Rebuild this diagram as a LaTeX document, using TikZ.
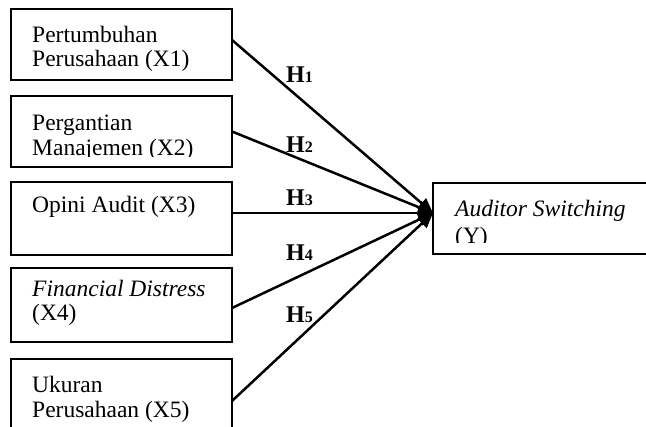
\documentclass[tikz,border=0pt]{standalone}
\usepackage{fontspec}
\setmainfont{Liberation Serif}
\usetikzlibrary{arrows.meta,calc}
\begin{document}
\begin{tikzpicture}[x=1pt,y=-1pt,
  box/.style={draw, line width=2pt, rectangle, inner sep=0pt, outer sep=0pt, anchor=north west},
  txt/.style={anchor=base west, inner sep=0pt, font=\fontsize{23.5}{24}\selectfont},
  hlab/.style={anchor=base west, inner sep=0pt, font=\bfseries\fontsize{24}{24}\selectfont},
  conn/.style={line width=2.5pt, -{Triangle[length=15pt,width=13pt]}}]
\clip (0,0) rectangle (646,427);
\fill[white] (0,0) rectangle (646,427);
% boxes
\node[box, minimum width=221pt, minimum height=71pt] (b1) at (11,9) {};
\node[box, minimum width=221pt, minimum height=71pt] (b2) at (11,96) {};
\node[box, minimum width=221pt, minimum height=73pt] (b3) at (11,182) {};
\node[box, minimum width=221pt, minimum height=74pt] (b4) at (11,268) {};
\node[box, minimum width=221pt, minimum height=73pt] (b5) at (11,359) {};
\node[box, minimum width=250pt, minimum height=71pt] (y) at (433,183) {};
% texts
\begin{scope}
\clip (11,9) rectangle (232,72);
\node[txt] (t1a) at (32,42.5) {Pertumbuhan};
\node[txt] (t1b) at (32,66.5) {Perusahaan (X1)};
\end{scope}
\begin{scope}
\clip (11,96) rectangle (232,156.5);
\node[txt] (t2a) at (32,130.5) {Pergantian};
\node[txt] (t2b) at (32,156) {Manajemen (X2)};
\end{scope}
\node[txt] (t3a) at (32,213) {Opini Audit (X3)};
\node[txt] (t4a) at (32,297) {\itshape Financial Distress};
\node[txt] (t4b) at (32,321) {(X4)};
\node[txt] (t5a) at (32,393) {Ukuran};
\node[txt] (t5b) at (32,418) {Perusahaan (X5)};
\begin{scope}
\clip (433,183) rectangle (680,243);
\node[txt] (tya) at (455,217) {\itshape Auditor Switching};
\node[txt] (tyb) at (455,243.5) {(Y)};
\end{scope}
% labels
\node[hlab] (h1) at (286,83) {H{\fontsize{16}{16}\selectfont 1}};
\node[hlab] (h2) at (286,153) {H{\fontsize{16}{16}\selectfont 2}};
\node[hlab] (h3) at (286,206) {H{\fontsize{16}{16}\selectfont 3}};
\node[hlab] (h4) at (286,261) {H{\fontsize{16}{16}\selectfont 4}};
\node[hlab] (h5) at (286,323) {H{\fontsize{16}{16}\selectfont 5}};
% connectors
\draw[conn] ([yshift=4.5pt]b1.east) -- ([yshift=5.5pt]y.west);
\draw[conn] (b2.east) -- ([yshift=5.5pt]y.west);
\draw[conn] ([yshift=5.5pt]b3.east) -- ([yshift=5.5pt]y.west);
\draw[conn] ([yshift=-3pt]b4.east) -- ([yshift=5.5pt]y.west);
\draw[conn] ([yshift=-5.5pt]b5.east) -- ([yshift=5.5pt]y.west);
\end{tikzpicture}
\end{document}
